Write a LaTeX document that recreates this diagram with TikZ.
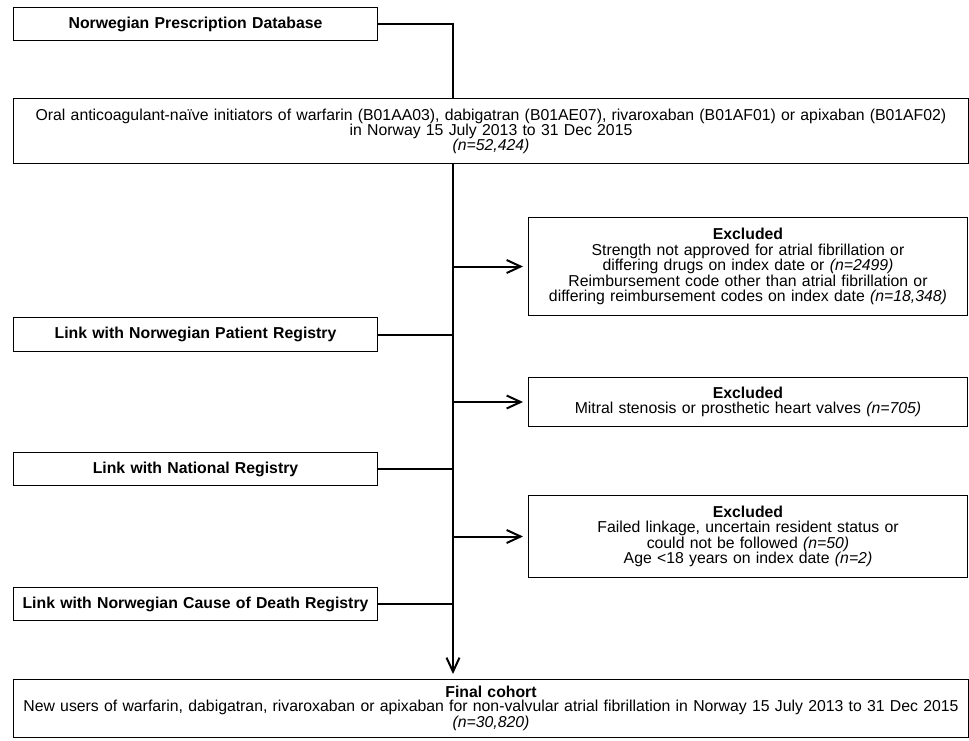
\documentclass[tikz,border=0pt]{standalone}
\usepackage{fontspec}
\setmainfont{Liberation Sans}
\usetikzlibrary{arrows.meta}

\tikzset{
    flowbox/.style={draw, line width=1pt, anchor=north west, inner sep=0pt, align=center,
        font=\fontsize{15.8}{15.5}\selectfont},
    linkbox/.style={flowbox, text width=364pt, minimum height=33pt,
        font=\fontsize{15.8}{15.5}\selectfont\bfseries},
    exclbox/.style={flowbox, text width=439pt},
    widebox/.style={flowbox, text width=955pt},
    flow/.style={line width=2pt},
    flowarrow/.style={flow, -{Straight Barb[length=14pt,width=13pt]}, shorten >=5pt}
}

\begin{document}
\begin{tikzpicture}[x=1pt, y=-1pt]
        \useasboundingbox 
            (0,0) rectangle (969,740);
        \coordinate 
            (spine) at (453,0);
        \draw 
            (13,7) node[linkbox] (presc) {Norwegian Prescription Database};
        \draw 
            (13,98) node[widebox, minimum height=65pt, font=\fontsize{15.8}{15}\selectfont] (init)
            {Oral anticoagulant-naïve initiators of warfarin (B01AA03), dabigatran (B01AE07), rivaroxaban (B01AF01) or apixaban (B01AF02)\\
             in Norway 15 July 2013 to 31 Dec 2015\\
             \textit{(n=52,424)}};
        \draw 
            (528,217) node[exclbox, minimum height=98pt] (excla)
            {\textbf{Excluded}\\
             Strength not approved for atrial fibrillation or\\
             differing drugs on index date or \textit{(n=2499)}\\
             Reimbursement code other than atrial fibrillation or\\
             differing reimbursement codes on index date \textit{(n=18,348)}};
        \draw 
            (13,317) node[linkbox, minimum height=34pt] (patreg) {Link with Norwegian Patient Registry};
        \draw 
            (528,377) node[exclbox, minimum height=49pt] (exclb)
            {\textbf{Excluded}\\
             Mitral stenosis or prosthetic heart valves \textit{(n=705)}};
        \draw 
            (13,452) node[linkbox] (natreg) {Link with National Registry};
        \draw 
            (528,495) node[exclbox, minimum height=82pt] (exclc)
            {\textbf{Excluded}\\
             Failed linkage, uncertain resident status or\\
             could not be followed \textit{(n=50)}\\
             Age <18 years on index date \textit{(n=2)}};
        \draw 
            (13,587) node[linkbox] (codreg) {Link with Norwegian Cause of Death Registry};
        \draw 
            (13,679) node[widebox, minimum height=58pt, font=\fontsize{15.8}{14}\selectfont] (final)
            {\textbf{Final cohort}\\
             New users of warfarin, dabigatran, rivaroxaban or apixaban for non-valvular atrial fibrillation in Norway 15 July 2013 to 31 Dec 2015\\
             \textit{(n=30,820)}};
        \draw 
            [flow] (presc.east) -| (init.north -| spine);
        \draw 
            [flowarrow] (init.south -| spine) -- (final.north -| spine);
        \draw 
            [flowarrow] (excla.west -| spine) -- (excla.west);
        \draw 
            [flowarrow] (exclb.west -| spine) -- (exclb.west);
        \draw 
            [flowarrow] (exclc.west -| spine) -- (exclc.west);
        \draw 
            [flow] (patreg.east) -- (patreg.east -| spine);
        \draw 
            [flow] (natreg.east) -- (natreg.east -| spine);
        \draw 
            [flow] (codreg.east) -- (codreg.east -| spine);
    \end{tikzpicture}
\end{document}
